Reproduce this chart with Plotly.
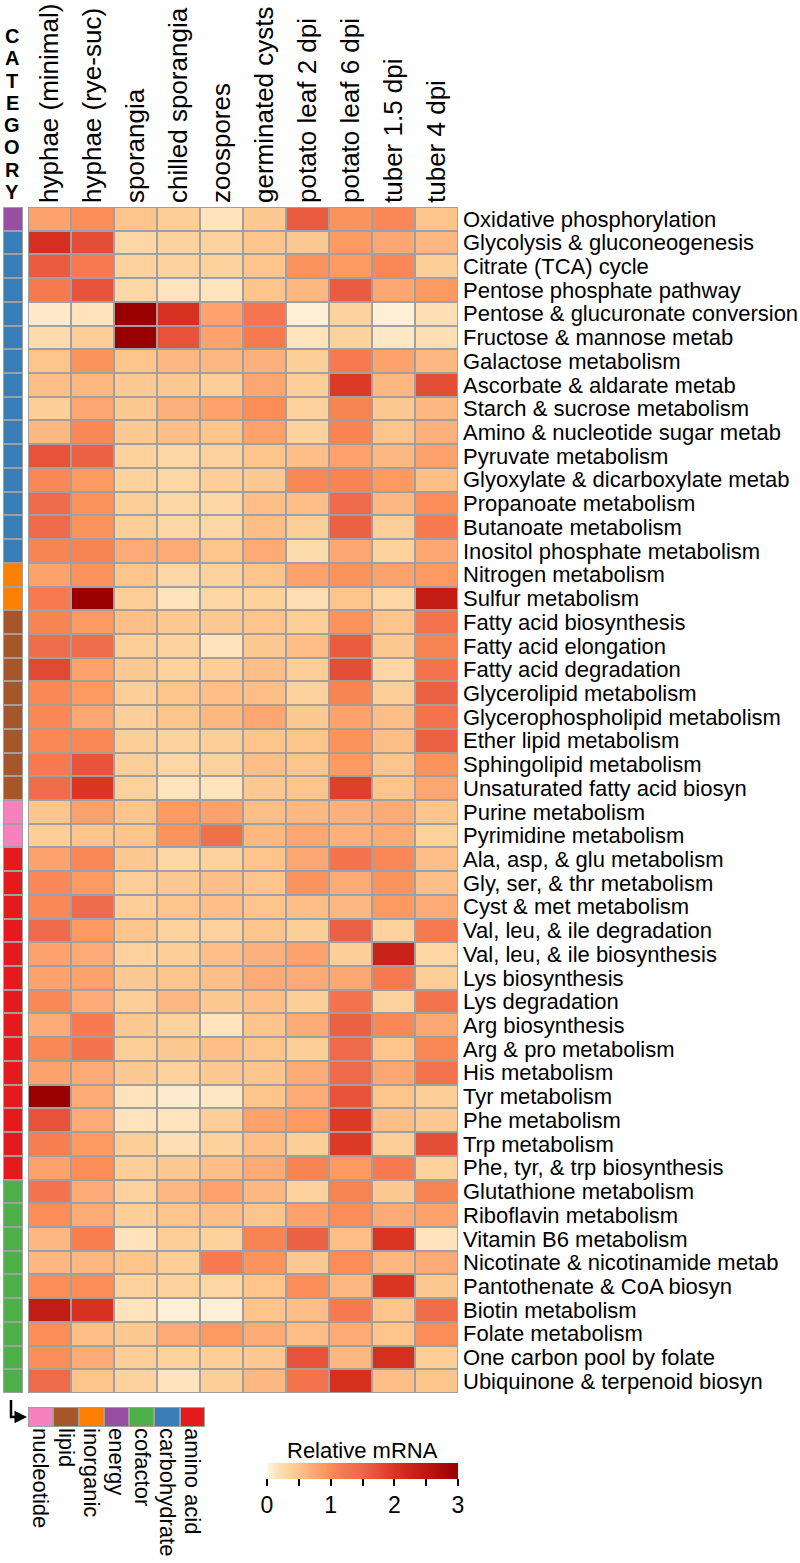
import plotly.graph_objects as go

W, H = 800, 1563
FONT = "Arial, Liberation Sans, Helvetica, sans-serif"

samples = ["hyphae (minimal)", "hyphae (rye-suc)", "sporangia", "chilled sporangia",
           "zoospores", "germinated cysts", "potato leaf 2 dpi", "potato leaf 6 dpi",
           "tuber 1.5 dpi", "tuber 4 dpi"]

pathways = [
    "Oxidative phosphorylation", "Glycolysis & gluconeogenesis", "Citrate (TCA) cycle",
    "Pentose phosphate pathway", "Pentose & glucuronate conversion", "Fructose & mannose metab",
    "Galactose metabolism", "Ascorbate & aldarate metab", "Starch & sucrose metabolism",
    "Amino & nucleotide sugar metab", "Pyruvate metabolism", "Glyoxylate & dicarboxylate metab",
    "Propanoate metabolism", "Butanoate metabolism", "Inositol phosphate metabolism",
    "Nitrogen metabolism", "Sulfur metabolism", "Fatty acid biosynthesis",
    "Fatty acid elongation", "Fatty acid degradation", "Glycerolipid metabolism",
    "Glycerophospholipid metabolism", "Ether lipid metabolism", "Sphingolipid metabolism",
    "Unsaturated fatty acid biosyn", "Purine metabolism", "Pyrimidine metabolism",
    "Ala, asp, & glu metabolism", "Gly, ser, & thr metabolism", "Cyst & met metabolism",
    "Val, leu, & ile degradation", "Val, leu, & ile biosynthesis", "Lys biosynthesis",
    "Lys degradation", "Arg biosynthesis", "Arg & pro metabolism", "His metabolism",
    "Tyr metabolism", "Phe metabolism", "Trp metabolism", "Phe, tyr, & trp biosynthesis",
    "Glutathione metabolism", "Riboflavin metabolism", "Vitamin B6 metabolism",
    "Nicotinate & nicotinamide metab", "Pantothenate & CoA biosyn", "Biotin metabolism",
    "Folate metabolism", "One carbon pool by folate", "Ubiquinone & terpenoid biosyn",
]

row_category = (["energy"] + ["carbohydrate"] * 14 + ["inorganic"] * 2 + ["lipid"] * 8 +
                ["nucleotide"] * 2 + ["amino acid"] * 14 + ["cofactor"] * 9)

relative_mrna = [
    [0.80, 1.00, 0.50, 0.40, 0.15, 0.45, 1.60, 0.95, 1.05, 0.50],
    [2.10, 1.75, 0.30, 0.35, 0.35, 0.50, 0.45, 0.90, 0.75, 0.60],
    [1.60, 1.20, 0.35, 0.35, 0.35, 0.50, 0.95, 0.90, 1.05, 0.40],
    [1.20, 1.70, 0.30, 0.15, 0.15, 0.50, 0.60, 1.60, 0.75, 0.90],
    [0.10, 0.15, 3.00, 2.05, 0.80, 1.25, 0.05, 0.35, 0.05, 0.20],
    [0.25, 0.40, 3.00, 1.70, 0.80, 1.20, 0.15, 0.35, 0.12, 0.20],
    [0.50, 0.95, 0.50, 0.60, 0.60, 0.65, 0.40, 1.20, 0.80, 0.60],
    [0.55, 0.60, 0.45, 0.45, 0.40, 0.75, 0.40, 1.95, 0.60, 1.75],
    [0.40, 0.75, 0.45, 0.65, 0.80, 1.00, 0.35, 1.10, 0.45, 0.60],
    [0.60, 1.05, 0.45, 0.55, 0.50, 0.80, 0.35, 1.10, 0.50, 0.65],
    [1.70, 1.55, 0.35, 0.30, 0.35, 0.50, 0.55, 0.80, 0.60, 0.80],
    [1.05, 0.90, 0.35, 0.30, 0.40, 0.45, 1.05, 1.10, 0.90, 0.55],
    [1.45, 0.95, 0.40, 0.30, 0.30, 0.55, 0.55, 1.45, 0.60, 1.00],
    [1.45, 0.95, 0.40, 0.30, 0.30, 0.55, 0.40, 1.55, 0.40, 1.20],
    [1.10, 1.10, 0.70, 0.70, 0.50, 0.70, 0.25, 0.75, 0.35, 0.75],
    [0.80, 0.95, 0.50, 0.30, 0.35, 0.50, 0.80, 0.95, 0.80, 0.90],
    [1.20, 3.00, 0.40, 0.15, 0.30, 0.35, 0.20, 0.50, 0.30, 2.40],
    [1.10, 0.90, 0.55, 0.45, 0.45, 0.50, 0.40, 0.95, 0.50, 1.30],
    [1.40, 1.40, 0.40, 0.35, 0.15, 0.45, 0.55, 1.60, 0.45, 1.10],
    [1.80, 0.80, 0.45, 0.35, 0.40, 0.55, 0.40, 1.75, 0.30, 1.30],
    [1.05, 0.90, 0.40, 0.50, 0.55, 0.55, 0.35, 1.10, 0.40, 1.55],
    [1.05, 0.75, 0.40, 0.50, 0.60, 0.75, 0.45, 0.80, 0.55, 1.30],
    [1.05, 1.05, 0.40, 0.35, 0.40, 0.50, 0.50, 0.95, 0.55, 1.55],
    [1.20, 1.70, 0.40, 0.30, 0.35, 0.55, 0.50, 0.90, 0.50, 0.95],
    [1.40, 2.00, 0.35, 0.15, 0.15, 0.45, 0.50, 1.90, 0.50, 0.75],
    [0.50, 0.80, 0.50, 0.90, 0.80, 0.55, 0.60, 0.65, 0.70, 0.50],
    [0.40, 0.50, 0.50, 0.95, 1.35, 0.60, 0.75, 0.65, 0.70, 0.35],
    [0.80, 1.05, 0.45, 0.30, 0.35, 0.50, 0.75, 1.30, 1.05, 0.55],
    [1.05, 0.90, 0.40, 0.45, 0.55, 0.50, 0.95, 0.70, 0.95, 0.55],
    [1.05, 1.45, 0.40, 0.50, 0.55, 0.50, 0.55, 0.60, 0.90, 0.70],
    [1.45, 0.90, 0.50, 0.35, 0.35, 0.50, 0.40, 1.55, 0.35, 1.20],
    [0.80, 0.70, 0.35, 0.40, 0.55, 0.65, 0.80, 0.40, 2.30, 0.30],
    [0.80, 0.80, 0.45, 0.50, 0.55, 0.70, 0.70, 0.75, 1.20, 0.40],
    [1.05, 0.70, 0.40, 0.60, 0.45, 0.55, 0.40, 1.30, 0.35, 1.30],
    [0.70, 1.20, 0.45, 0.35, 0.15, 0.50, 0.70, 1.55, 1.05, 0.75],
    [1.05, 1.30, 0.40, 0.45, 0.55, 0.50, 0.40, 1.45, 0.50, 1.05],
    [0.80, 0.70, 0.45, 0.35, 0.45, 0.50, 0.70, 1.45, 0.75, 1.30],
    [3.00, 0.70, 0.15, 0.08, 0.12, 0.50, 0.70, 1.70, 0.50, 0.40],
    [1.70, 0.70, 0.15, 0.15, 0.40, 0.80, 0.90, 1.95, 0.55, 0.45],
    [1.15, 0.90, 0.40, 0.20, 0.35, 0.55, 0.40, 1.95, 0.40, 1.75],
    [0.80, 1.00, 0.40, 0.45, 0.55, 0.70, 1.10, 0.90, 1.20, 0.35],
    [1.30, 0.70, 0.35, 0.60, 0.80, 0.60, 0.35, 1.10, 0.45, 1.10],
    [1.00, 0.70, 0.40, 0.50, 0.55, 0.50, 0.80, 1.00, 0.70, 0.80],
    [0.60, 1.15, 0.15, 0.40, 0.35, 1.10, 1.55, 0.55, 2.00, 0.15],
    [0.60, 0.60, 0.50, 0.40, 1.20, 0.95, 0.45, 1.00, 0.60, 0.70],
    [1.00, 1.00, 0.35, 0.35, 0.30, 0.50, 1.00, 0.60, 2.00, 0.45],
    [2.40, 2.05, 0.15, 0.05, 0.05, 0.50, 0.55, 1.20, 0.50, 1.40],
    [1.00, 0.55, 0.45, 0.70, 0.90, 0.70, 0.55, 0.70, 0.50, 1.00],
    [1.00, 0.70, 0.40, 0.35, 0.40, 0.45, 1.70, 0.60, 2.10, 0.40],
    [1.45, 0.50, 0.35, 0.15, 0.40, 0.60, 1.30, 2.10, 0.55, 0.50],
]

legend_categories = ["nucleotide", "lipid", "inorganic", "energy", "cofactor",
                     "carbohydrate", "amino acid"]
legend_colors = ["#F781BF", "#A65628", "#FF7F00", "#984EA3", "#4DAF4A",
                 "#377EB8", "#E41A1C"]

colorbar_ticks = [0, 0.5, 1, 1.5, 2, 2.5, 3]
colorbar_ticktext = ["0", "", "1", "", "2", "", "3"]

mrna_scale = [
    [0.0, "#FFF5E4"], [0.05, "#FEE3BD"], [0.10, "#FDD7A3"], [0.1667, "#FDC48C"],
    [0.2333, "#FCAA76"], [0.30, "#FC9A62"], [0.3333, "#FA8D58"], [0.40, "#F6794F"],
    [0.4833, "#EE6A4A"], [0.5667, "#E6533A"], [0.6667, "#DA3523"], [0.80, "#C21C14"],
    [1.0, "#990000"],
]

# discrete scale for categories
n_cat = len(legend_categories)
cat_scale = []
for i, c in enumerate(legend_colors):
    cat_scale.append([i / n_cat, c])
    cat_scale.append([(i + 1) / n_cat, c])
cat_index = [[legend_categories.index(c)] for c in row_category]

GRID = "#A0A0A0"


def px_x(p):
    return p / W


def px_y(p):
    return 1 - p / H


fig = go.Figure()

fig.add_trace(go.Heatmap(
    z=relative_mrna, x=list(range(len(samples))), y=list(range(len(pathways))),
    colorscale=mrna_scale, zmin=0, zmax=3, xgap=2, ygap=2, xaxis="x", yaxis="y",
    colorbar=dict(orientation="h", x=px_x(362.5), xanchor="center",
                  y=px_y(1463), yanchor="top", len=191, lenmode="pixels",
                  thickness=16, thicknessmode="pixels", xpad=0, ypad=0,
                  outlinewidth=0, ticks="outside", ticklen=7, tickwidth=2,
                  tickcolor="black", tickvals=colorbar_ticks,
                  ticktext=colorbar_ticktext,
                  tickfont=dict(size=23, color="black", family=FONT)),
))

fig.add_trace(go.Heatmap(
    z=cat_index, x=[0], y=list(range(len(pathways))), colorscale=cat_scale,
    zmin=-0.5, zmax=n_cat - 0.5, showscale=False, xgap=2, ygap=2,
    xaxis="x2", yaxis="y2",
))

fig.add_trace(go.Heatmap(
    z=[list(range(n_cat))], x=list(range(n_cat)), y=[0], colorscale=cat_scale,
    zmin=-0.5, zmax=n_cat - 0.5, showscale=False, xgap=2, ygap=2,
    xaxis="x3", yaxis="y3",
))

top, bottom = 207, 1393
ydom = [px_y(bottom), px_y(top)]

common = dict(showgrid=False, zeroline=False, ticks="", automargin=False,
              fixedrange=True, showline=False)

fig.update_layout(
    width=W, height=H, margin=dict(l=0, r=0, t=0, b=0, autoexpand=False),
    paper_bgcolor="white", plot_bgcolor=GRID,
    font=dict(family=FONT, color="black"),
    xaxis=dict(domain=[px_x(28), px_x(458)], range=[-0.5, 9.5], side="top",
               tickvals=list(range(len(samples))), ticktext=samples, tickangle=-90,
               tickfont=dict(size=26, family=FONT, color="black"), anchor="y",
               ticklabelstandoff=3, **common),
    yaxis=dict(domain=ydom, range=[len(pathways) - 0.5, -0.5], side="right",
               tickvals=list(range(len(pathways))), ticktext=pathways,
               tickfont=dict(size=22, family=FONT, color="black"), anchor="x",
               ticklabelstandoff=4, **common),
    xaxis2=dict(domain=[px_x(3), px_x(23)], range=[-0.5, 0.5], showticklabels=False,
                anchor="y2", **common),
    yaxis2=dict(domain=ydom, range=[len(pathways) - 0.5, -0.5], showticklabels=False,
                anchor="x2", **common),
    xaxis3=dict(domain=[px_x(28), px_x(205)], range=[-0.5, n_cat - 0.5], side="bottom",
                tickvals=list(range(n_cat)), ticktext=legend_categories, tickangle=90,
                tickfont=dict(size=22, family=FONT, color="black"), anchor="y3",
                **common),
    yaxis3=dict(domain=[px_y(1427), px_y(1407)], range=[-0.5, 0.5], showticklabels=False,
                anchor="x3", **common),
)

# outer borders of the grids
for xr, yr, x0, x1, y0, y1 in [
    ("x", "y", -0.5, len(samples) - 0.5, -0.5, len(pathways) - 0.5),
    ("x2", "y2", -0.5, 0.5, -0.5, len(pathways) - 0.5),
    ("x3", "y3", -0.5, n_cat - 0.5, -0.5, 0.5),
]:
    fig.add_shape(type="rect", xref=xr, yref=yr, x0=x0, x1=x1, y0=y0, y1=y1,
                  line=dict(color=GRID, width=2), fillcolor="rgba(0,0,0,0)")

# CATEGORY vertical label
for i, ch in enumerate("CATEGORY"):
    fig.add_annotation(x=px_x(12), y=px_y(36 + i * 22.3), xref="paper", yref="paper",
                       text="<b>%s</b>" % ch, showarrow=False, xanchor="center",
                       yanchor="middle", font=dict(size=20, family=FONT, color="black"))

# colorbar title
fig.add_annotation(x=px_x(362), y=px_y(1450), xref="paper", yref="paper",
                   text="Relative mRNA", showarrow=False, xanchor="center",
                   yanchor="middle", font=dict(size=22, family=FONT, color="black"))

# bent arrow from category column to the legend
fig.add_shape(type="path", xref="paper", yref="paper",
              path="M %f %f L %f %f L %f %f" % (px_x(11), px_y(1400), px_x(11), px_y(1417),
                                                px_x(20), px_y(1417)),
              line=dict(color="black", width=2.5))
fig.add_annotation(x=px_x(27), y=px_y(1417), ax=-9, ay=0,
                   xref="paper", yref="paper",
                   text="", showarrow=True, arrowhead=2, arrowsize=1, arrowwidth=2.5,
                   arrowcolor="black", standoff=0)

fig.write_html(
    "out.html",
    config={"displayModeBar": False},
    post_script="document.body.style.margin='0px';document.body.style.padding='0px';"
                "document.body.style.overflow='hidden';",
)
